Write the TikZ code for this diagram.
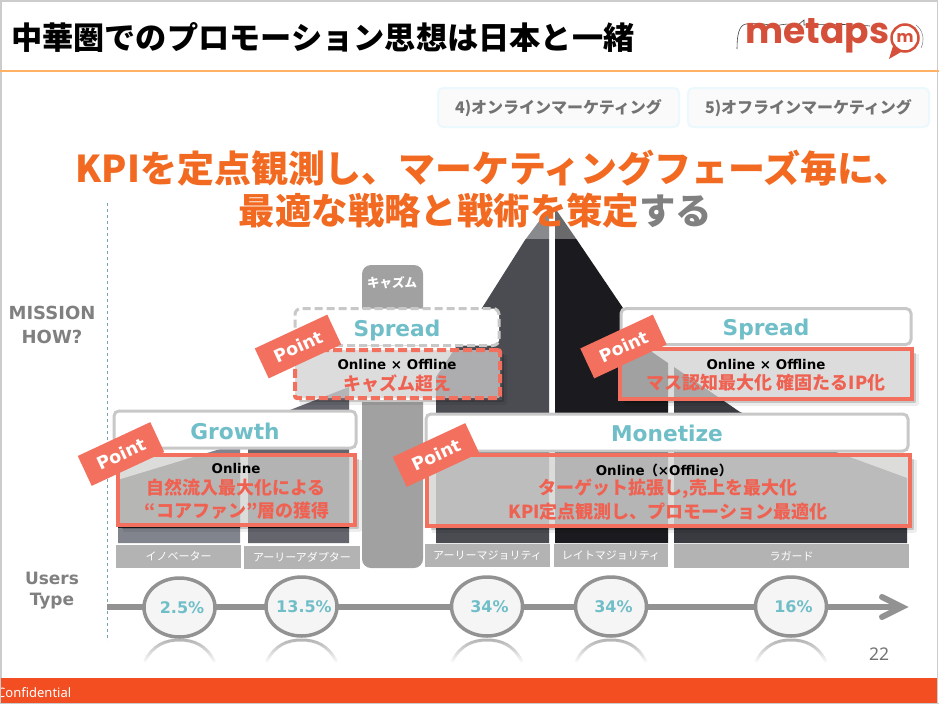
\documentclass[tikz,border=0pt]{standalone}
\usepackage{fontspec}
\setmainfont{DejaVu Sans}
\newfontfamily\jp{Noto Sans CJK JP}
\newfontfamily\logofont{Poppins}
\newfontfamily\plainfont{Noto Sans}
\usetikzlibrary{fadings,shapes.geometric}
\definecolor{orangeT}{HTML}{F26A21}
\definecolor{coral}{HTML}{F3705E}
\definecolor{coralT}{HTML}{EF6252}
\definecolor{tealT}{HTML}{70BEC8}
\definecolor{grayT}{HTML}{808080}
\definecolor{rimG}{HTML}{C8C8C8}
\definecolor{lineG}{HTML}{929292}
\definecolor{labelG}{HTML}{B3B3B3}
\definecolor{panelG}{HTML}{D6D5D4}
\definecolor{panelH}{HTML}{D0D0D0}
\definecolor{footR}{HTML}{F24E21}
\definecolor{logoR}{HTML}{D5503A}
\newcommand{\fsz}[1]{\fontsize{#1}{#1}\selectfont}
\newcommand{\pcttext}[1]{\makebox[0pt]{\hspace*{5pt}#1}}
\newcommand{\lowered}[2]{\raisebox{-#1pt}[0pt][0pt]{#2}}
\newcommand{\panelshade}[4]{%
  \draw[black,opacity=.07,line width=5pt,line join=round] (#3+4,#2+5) -- (#3+4,#4+4) -- (#1+5,#4+4);
  \draw[black,opacity=.16,line width=2.5pt,line join=round] (#3+3,#2+4) -- (#3+3,#4+3) -- (#1+4,#4+3);}
\tikzset{
  titlebox/.style={draw=rimG,fill=white,line width=3pt,rounded corners=5pt,inner sep=0pt,outer sep=0pt,text=tealT,font=\bfseries\fsz{21.7}},
  solidpanel/.style={draw=coral,line width=4pt,fill=panelG,fill opacity=.83,inner sep=0pt,outer sep=0pt},
  upperpanel/.style={solidpanel,fill=panelH,fill opacity=.74},
  dashpanel/.style={upperpanel,rounded corners=2pt,dash pattern=on 9pt off 4pt},
  sublabel/.style={font=\bfseries\fsz{13.4},text=black,inner sep=0pt},
  jplabel/.style={font=\jp\bfseries\fsz{18},text=coralT,inner sep=0pt},
  pointtag/.style={fill=coral,text=white,rotate=25,minimum width=80pt,minimum height=33pt,inner sep=0pt,font=\bfseries\fsz{17.5}},
  usertag/.style={fill=labelG,text=white,inner sep=0pt,outer sep=0pt,font=\jp\fsz{11}},
  pct/.style={ellipse,draw=lineG,line width=3.5pt,fill=black!4,minimum width=71pt,minimum height=59pt,inner sep=0pt,text=tealT,font=\bfseries\fsz{16}},
  sidelabel/.style={text=grayT,font=\bfseries\fsz{17},align=center,inner sep=0pt},
  tabbox/.style={draw=black!3!cyan!8!white,fill=black!2,line width=2pt,rounded corners=5pt,inner sep=0pt,text=grayT!90!black,font=\jp\bfseries\fsz{16},minimum width=241pt,minimum height=39pt},
  headline/.style={text=orangeT,font=\jp\bfseries\fsz{36.4},inner sep=0pt},
  reflect/.style={line width=3pt,draw=lineG!70,path fading=south},
}
\begin{document}
\begin{tikzpicture}[x=1pt,y=-1pt]
\useasboundingbox (0,0) rectangle (939,704);
\fill[white] (0,0) rectangle (939,704);
% frame
\draw[black!20,line width=1.2pt] (1,704) -- (1,1) -- (937.5,1) -- (937.5,704);
\draw[black!20,line width=1pt] (0,703.5) -- (939,703.5);
% header
\node[anchor=west,inner sep=0pt,font=\jp\bfseries\fsz{31.2}] (head) at (11,37) {中華圏でのプロモーション思想は日本と一緒};
\draw[draw=orange!60!white,line width=1.5pt] (0,71) -- (939,71);
% logo
\draw[black!75,line width=.6pt] (737,49) .. controls (737,35) and (739,25) .. (746,24) .. controls (760,23) and (768,24) .. (775,27) .. controls (782,23) and (790,24) .. (798,25) -- (804,20) -- (804,25) .. controls (820,24) and (850,24) .. (870,26);
\node[inner sep=0pt,text=logoR,font=\logofont\bfseries\fsz{36}] (logo) at (817.5,36) {metaps};
\node[circle,draw=logoR,line width=2.5pt,minimum size=27pt,inner sep=0pt,text=logoR,font=\logofont\bfseries\fsz{16}] (logom) at (905,38) {m};
\fill[logoR] (893,46) -- (889,59) -- (901,52) -- cycle;
\draw[black!50,line width=.5pt] (916,25) .. controls (923,30) and (925,40) .. (921,48);
% tabs
\node[tabbox] (tab4) at (558.5,107.5) {\lowered{6}{4)オンラインマーケティング}};
\node[tabbox] (tab5) at (808.5,107.5) {\lowered{6}{5)オフラインマーケティング}};
% axis dashed
\draw[dashed,draw=tealT!60!gray,line width=.8pt] (107,203) -- (107,641);
% bars
\fill[fill={rgb,255:red,130;green,132;blue,141}] (118,480) -- (240,443) -- (240,543) -- (118,543) -- cycle;
\fill[fill={rgb,255:red,100;green,101;blue,109}] (248,430) -- (290,410) -- (349,387) -- (349,543) -- (248,543) -- cycle;
\begin{scope}
\clip (116,453) rectangle (357,527);
\fill[fill={rgb,255:red,30;green,30;blue,33}] (118,480) -- (240,443) -- (240,543) -- (118,543) -- cycle;
\fill[fill={rgb,255:red,15;green,15;blue,18}] (248,430) -- (290,410) -- (349,387) -- (349,543) -- (248,543) -- cycle;
\end{scope}
\fill[fill={rgb,255:red,75;green,76;blue,82}] (436,377) -- (482,308) -- (525,240) -- (549,208) -- (549,543) -- (436,543) -- cycle;
\fill[fill={rgb,255:red,27;green,27;blue,31}] (555,208) -- (577,240) -- (623,308) -- (652,352) -- (668,363) -- (668,543) -- (555,543) -- cycle;
\fill[fill={rgb,255:red,58;green,59;blue,65}] (674,367) -- (740,412) -- (836,452) -- (907,478) -- (907,543) -- (674,543) -- cycle;
\fill[white,opacity=.35] (520,200) rectangle (590,238.5);
% chasm
\fill[fill={rgb,255:red,160;green,161;blue,160},rounded corners=9pt] (362,265) rectangle (423,568);
\fill[white] (360,346) rectangle (425,402);
\node[inner sep=0pt,text=white,font=\jp\bfseries\fsz{12.5}] (chasm) at (392,283) {キャズム};
% headline
\node[headline,font=\jp\bfseries\fsz{36.95}] (h1) at (493,168) {KPIを定点観測し、マーケティングフェーズ毎に、};
\node[headline] (h2) at (475.5,211) {最適な戦略と戦術を策定\textcolor{grayT}{する}};
% side labels
\node[sidelabel,font=\bfseries\fsz{18}] (mission) at (52,325) {MISSION\\[6pt]HOW?};
\node[sidelabel] (users) at (52,591) {Users\\[4pt]Type};
% title boxes
\node[titlebox,draw=none,minimum width=204pt,minimum height=37pt] (sl) at (397,327) {\lowered{9}{Spread}};
\draw[rimG,line width=3pt,dash pattern=on 8pt off 4pt,rounded corners=6pt] (sl.south west) rectangle (sl.north east);
\node[titlebox,minimum width=290pt,minimum height=36pt] (sr) at (766,326.5) {\lowered{8.5}{Spread}};
\node[titlebox,minimum width=242pt,minimum height=37pt] (gr) at (235,429.5) {\lowered{9.5}{Growth}};
\node[titlebox,minimum width=482pt,minimum height=37pt] (mo) at (667,432.5) {\lowered{8.5}{Monetize}};
% panels
\panelshade{295}{350}{500}{398}
\panelshade{620}{349}{912}{399}
\panelshade{118}{455}{355}{525}
\panelshade{427}{455}{910}{526}
\node[dashpanel,minimum width=205pt,minimum height=48pt] (slp) at (397.5,374) {};
\node[upperpanel,minimum width=292pt,minimum height=50pt] (srp) at (766,374) {};
\node[solidpanel,minimum width=237pt,minimum height=70pt] (grp) at (236.5,490) {};
\node[solidpanel,minimum width=483pt,minimum height=71pt] (mop) at (668.5,490.5) {};
% panel text
\node[sublabel] (slp1) at (397,364) {Online × Offline};
\node[jplabel] (slp2) at (397,384) {キャズム超え};
\node[sublabel] (srp1) at (766,364) {Online × Offline};
\node[jplabel] (srp2) at (766,383) {マス認知最大化 確固たるIP化};
\node[sublabel] (grp1) at (236,468) {Online};
\node[jplabel] (grp2) at (236,488) {自然流入最大化による};
\node[jplabel] (grp3) at (237,510.5) {“コアファン”層の獲得};
\node[sublabel] (mop1) at (664,470) {Online{\jp\bfseries （}×Offline{\jp\bfseries ）}};
\node[jplabel] (mop2) at (668,489) {ターゲット拡張し,売上を最大化};
\node[jplabel] (mop3) at (668,511.5) {KPI定点観測し、プロモーション最適化};
% point tags
\node[pointtag] (p1) at (121,454) {Point};
\node[pointtag] (p2) at (298,346.5) {Point};
\node[pointtag] (p3) at (623.5,346.5) {Point};
\node[pointtag] (p4) at (436,455) {Point};
% user tags
\node[usertag,minimum width=125pt,minimum height=23pt] (u1) at (178.5,556.5) {イノベーター};
\node[usertag,minimum width=116pt,minimum height=23pt] (u2) at (302,557.5) {アーリーアダプター};
\node[usertag,minimum width=125pt,minimum height=23pt] (u3) at (487.5,555.5) {アーリーマジョリティ};
\node[usertag,minimum width=114pt,minimum height=23pt] (u4) at (611,555.5) {レイトマジョリティ};
\node[usertag,minimum width=235pt,minimum height=24pt] (u5) at (791.5,556) {ラガード};
% timeline
\coordinate (tstart) at (107,607);
\coordinate (ttip) at (900,607);
\draw[lineG,line width=6pt] (tstart) -- (ttip);
\draw[lineG,line width=6pt,line cap=round,line join=miter] (882,597) -- (902,607) -- (882,617);
% reflections
\foreach \cx in {179.5,301.5,487,611,791}{
  \draw[reflect] (\cx-35,662) .. controls (\cx-27,645) and (\cx-14,640) .. (\cx,640) .. controls (\cx+14,640) and (\cx+27,645) .. (\cx+35,662);
}
% percent circles
\node[pct] (c1) at (179.5,607.5) {\pcttext{2.5\%}};
\node[pct] (c2) at (301.5,606.5) {\pcttext{13.5\%}};
\node[pct] (c3) at (487,606.5) {\pcttext{34\%}};
\node[pct] (c4) at (611,606.5) {\pcttext{34\%}};
\node[pct] (c5) at (791,606.5) {\pcttext{16\%}};
% page number
\node[inner sep=0pt,text=black!55,font=\plainfont\fsz{17.5}] (pg) at (879,654) {22};
% footer
\fill[footR] (1,678) rectangle (937,703);
\begin{scope}
\clip (1,678) rectangle (937,703);
\node[anchor=west,inner sep=0pt,text=white,font=\plainfont\fsz{13}] (conf) at (-3,693) {Confidential};
\end{scope}
\end{tikzpicture}
\end{document}
